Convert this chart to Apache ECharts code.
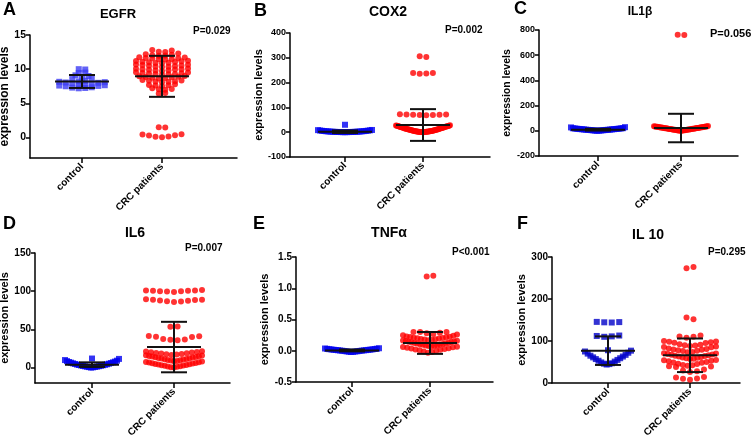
<!DOCTYPE html>
<html><head><meta charset="utf-8">
<script src="https://cdn.jsdelivr.net/npm/echarts@6/dist/echarts.min.js"></script>
<style>html,body{margin:0;padding:0;background:#fff}#c{width:753px;height:438px}</style>
</head><body><div id="c"></div>
<script>
// ---------------- DATA ----------------
const groups = ['control', 'CRC patients'];
const panelLetters = ['A', 'B', 'C', 'D', 'E', 'F'];
const panelTitles = ['EGFR', 'COX2', 'IL1\u03b2', 'IL6', 'TNF\u03b1', 'IL 10'];
const pValues = ['P=0.029', 'P=0.002', 'P=0.056', 'P=0.007', 'P<0.001', 'P=0.295'];
const yAxisName = 'expression levels';

// y tick labels per panel
const egfrTicks = [0, 5, 10, 15];
const cox2Ticks = [-100, 0, 100, 200, 300, 400];
const il1bTicks = [-200, 0, 200, 400, 600, 800];
const il6Ticks = [0, 50, 100, 150];
const tnfTicks = [-0.5, 0, 0.5, 1.0, 1.5];
const il10Ticks = [0, 100, 200, 300];

// y ranges
const egfrRange = [-3, 15];
const cox2Range = [-100, 400];
const il1bRange = [-200, 800];
const il6Range = [-20, 150];
const tnfRange = [-0.5, 1.5];
const il10Range = [0, 300];

// EGFR
const egfrControl = [7.2, 7.25, 7.3, 7.35, 7.5, 7.55, 7.6, 7.65, 7.7, 7.75, 7.8, 7.95, 8.0, 8.05, 8.1, 8.15, 8.2, 8.3, 8.55, 8.6, 8.7, 9.0, 9.1, 9.45, 9.5, 9.95, 10.0];
const egfrCRC = [0.05, 0.1, 0.15, 0.3, 0.32, 0.45, 0.48, 1.45, 1.5,
  6.45, 6.5,
  7.0, 7.05, 7.1, 7.2,
  7.55, 7.6, 7.65, 7.7, 7.8,
  8.1, 8.15, 8.2, 8.25, 8.3, 8.35, 8.4,
  8.65, 8.7, 8.75, 8.8, 8.85, 8.9, 8.95, 9.0,
  9.2, 9.25, 9.3, 9.3, 9.35, 9.4, 9.45, 9.5, 9.55,
  9.75, 9.8, 9.85, 9.9, 9.95, 10.0, 10.0, 10.05, 10.1,
  10.3, 10.35, 10.4, 10.45, 10.5, 10.55, 10.6, 10.65, 10.7,
  10.85, 10.9, 10.95, 11.0, 11.05, 11.1, 11.15, 11.2, 11.25,
  11.4, 11.45, 11.5, 11.55, 11.6, 11.65, 11.7, 11.75,
  11.95, 12.0, 12.05, 12.1, 12.2, 12.3,
  12.5, 12.55, 12.75, 12.8];
const egfrMean = [8.2, 8.95];
const egfrSD = [0.95, 3.0];

// COX2
const cox2Control = [0.1, 0.2, 0.3, 0.5, 0.6, 0.8, 0.9, 1.1, 1.3, 1.4, 1.6, 1.9, 2.1, 2.4, 2.7, 3.1, 3.4, 3.8, 4.2, 4.7, 5.1, 5.6, 6.2, 6.8, 7.5, 8.3, 9.0, 30];
const cox2CRC = [0.1, 0.3, 0.4, 0.6, 0.9, 1.0, 1.2, 1.5, 1.7, 2.0, 2.2, 2.5, 2.9, 3.1, 3.4, 3.8, 4.1, 4.5, 4.8, 5.2, 5.7, 6.1, 6.6, 7.0, 7.4, 7.9, 8.5, 8.9, 9.4, 10.0,
  10.6, 11.1, 11.7, 12.2, 12.8, 13.3, 13.9, 14.6, 15.2, 15.7, 16.3, 16.9, 17.5, 18.2, 18.8, 19.3, 19.9, 20.5, 21.2, 21.8, 22.3, 22.9, 23.6, 24.2, 24.8, 25.3, 25.9, 26.4, 27.0, 27.6,
  68, 69, 69.5, 70, 70.5, 71, 71.5, 72,
  236, 237, 238.5, 239,
  303, 306];
const cox2Mean = [2, 29];
const cox2SD = [5, 64];

// IL1beta
const il1bControl = [0.5, 1.2, 2.0, 2.6, 3.3, 4.1, 4.8, 5.5, 6.3, 7.0, 7.6, 8.4, 9.1, 9.8, 10.5, 11.2, 12.0, 12.7, 13.5, 14.2, 15.0, 15.8, 16.7, 17.5, 18.4, 19.3, 20.2, 21.0, 27, 29];
const il1bCRC = [0.3, 1.0, 1.8, 2.5, 3.1, 3.9, 4.6, 5.2, 6.0, 6.7, 7.5, 8.2, 9.0, 9.6, 10.4, 11.1, 11.9, 12.6, 13.3, 14.1, 14.8, 15.6, 16.3, 17.1, 17.8,
  18.6, 19.3, 20.1, 20.8, 21.6, 22.3, 23.1, 23.8, 24.6, 25.3, 26.1, 26.8, 27.6, 28.3, 29.1, 29.8, 30.6, 31.3, 32.1, 32.8, 33.6, 34.3, 35.1, 36, 38,
  760, 762];
const il1bMean = [9, 22];
const il1bSD = [7, 113];

// IL6
const il6Control = [0.2, 0.5, 0.8, 1.0, 1.3, 1.5, 1.8, 2.0, 2.3, 2.6, 2.9, 3.2, 3.5, 3.8, 4.1, 4.5, 4.9, 5.3, 5.7, 6.1, 6.6, 7.0, 7.5, 8.0, 8.6, 9.2, 10.0, 11.5, 12.0];
const il6CRC = [0.3, 0.7, 1.1, 1.6, 2.0, 2.4, 2.9, 3.3, 3.7, 4.2, 4.6, 5.0, 5.5, 5.9, 6.3, 6.8, 7.2, 7.6, 8.1, 8.5, 8.9, 9.4, 9.8, 10.2, 10.7,
  11.1, 11.5, 12.0, 12.4, 12.8, 13.3, 13.7, 14.1, 14.6, 15.0, 15.4, 15.9, 16.3, 16.7, 17.2, 17.6, 18.0, 18.5, 18.9, 19.3, 19.8, 20.2, 20.6, 21.1, 21.5,
  36, 36.5, 37, 37.5, 40, 40.5, 41, 41.5,
  53.5, 54,
  86, 86.5, 87, 87.5, 88, 88.5, 89, 89, 89.5,
  99, 99.5, 100, 100, 100.5, 100.5, 101, 101, 101.5];
const il6Mean = [4, 27];
const il6SD = [3, 33];

// TNFalpha
const tnfControl = [-0.02, -0.018, -0.015, -0.012, -0.01, -0.008, -0.005, -0.003, 0, 0.002, 0.004, 0.006, 0.008, 0.01, 0.012, 0.014, 0.016, 0.018, 0.02, 0.022, 0.025, 0.028, 0.03, 0.033, 0.036, 0.04];
const tnfCRC = [-0.03, -0.02, -0.01, 0.0, 0.01, 0.015, 0.02, 0.03, 0.035, 0.04, 0.05, 0.055, 0.06, 0.065, 0.07, 0.075, 0.08, 0.085, 0.09, 0.095,
  0.1, 0.105, 0.11, 0.115, 0.12, 0.125, 0.13, 0.135, 0.14, 0.145, 0.15, 0.155, 0.16, 0.165, 0.17, 0.175, 0.18, 0.185, 0.19, 0.195,
  0.2, 0.205, 0.21, 0.215, 0.22, 0.225, 0.23, 0.24, 0.25, 0.26, 0.27, 0.28, 0.29, 0.3, 0.3, 0.3,
  1.19, 1.2];
const tnfMean = [0.005, 0.125];
const tnfSD = [0.015, 0.175];

// IL10
const il10Control = [44, 45, 46, 47, 49, 51, 53, 55, 57, 59, 61, 63, 65, 67, 70, 72, 75, 77, 78, 110, 111, 112, 113, 144, 144.5, 145, 145.5];
const il10CRC = [8, 10, 11, 13, 14, 26, 28, 30, 32, 38, 39, 40, 41, 42, 43,
  45, 46, 48, 49, 50, 52, 53, 54, 55, 57, 58, 59, 60, 61, 62, 63, 64, 65, 66, 67, 68, 69, 70, 71, 73, 74,
  76, 77, 78, 79, 80, 81, 82, 85, 86, 87, 88, 89, 90, 91, 92, 95, 96, 97, 98, 99, 100,
  108, 110, 111, 113, 152, 156, 273, 276];
const il10Mean = [77, 66];
const il10SD = [34, 40];

// ---------------- LAYOUT (pixels) ----------------
// [axisLeft, axisRight, controlX, crcX, axisTop, axisBottom]
const boxes = [
  [30, 237, 82, 162, 35, 158],
  [290, 490, 345, 423, 33, 157],
  [539, 738, 598, 681, 30, 156],
  [35, 230, 92, 174, 253, 383],
  [296, 493, 352, 430, 257, 382],
  [552, 740, 608, 690, 257, 383]
];
const letterPos = [[3, 10], [254, 11], [514, 9], [3, 224], [253, 224], [517, 224]];
const titlePos = [[118, 14], [388, 12], [640, 12], [135, 233], [389, 233], [648, 235]];
const titleSize = [13, 14, 12, 14, 14, 14];
const pPos = [[193, 31], [445, 30], [710, 34], [185, 248], [452, 252], [708, 252]];
const pSize = [10, 10, 11, 10, 10, 10];
const nameGaps = [18, 24, 20, 22, 25, 23];
const nameSize = [12, 11, 10.5, 11, 11, 11];
const tickSize = [10.5, 9, 9, 10, 10, 10];
// swarm: row height (px) per group, dot spacing (px), max row width (px)
const binPx = [[3.3, 3.3], [7.5, 7.5], [6, 6], [9, 6], [6, 6], [14, 6]];
const spacingPx = [[6.5, 6.5], [6.6, 6.6], [6.6, 6.6], [7.2, 7.2], [6.6, 6.6], [7.5, 7.0]];
const rowWidthPx = [[48, 52], [54, 54], [54, 54], [54, 56], [54, 54], [46, 52]];
const ctrlColors = ['#3c3cf4', '#0000f5', '#0000f0', '#0000f0', '#0000f0', '#0000c8'];
const crcColor = '#ff0000';
const FONT = '"Liberation Sans", Arial, Helvetica, sans-serif';

const panelData = [
  [egfrControl, egfrCRC, egfrMean, egfrSD, egfrTicks, egfrRange],
  [cox2Control, cox2CRC, cox2Mean, cox2SD, cox2Ticks, cox2Range],
  [il1bControl, il1bCRC, il1bMean, il1bSD, il1bTicks, il1bRange],
  [il6Control, il6CRC, il6Mean, il6SD, il6Ticks, il6Range],
  [tnfControl, tnfCRC, tnfMean, tnfSD, tnfTicks, tnfRange],
  [il10Control, il10CRC, il10Mean, il10SD, il10Ticks, il10Range]
];

// Beeswarm placement: values within one row height share a row, spread sideways,
// lowest in the centre; crowded rows are squeezed to the column width.
function swarm(values, center, pxY, pxX, bin, spacing, width) {
  const v = values.slice().sort((a, b) => a - b);
  const rows = []; let cur = [];
  v.forEach(val => {
    if (cur.length && ((val - cur[cur.length - 1]) * pxY > 4 || (val - cur[0]) * pxY > bin)) { rows.push(cur); cur = []; }
    cur.push(val);
  });
  if (cur.length) rows.push(cur);
  const pts = [];
  rows.forEach((row, r) => {
    const n = row.length;
    const sp = n > 1 ? Math.min(spacing, width / (n - 1)) : 0;
    const slots = [];
    for (let i = 0; i < n; i++) slots.push(i - (n - 1) / 2);
    const sgn = r % 2 ? -1 : 1;
    slots.sort((a, b) => Math.abs(a) - Math.abs(b) || sgn * (a - b));
    row.forEach((val, i) => pts.push([center + slots[i] * sp / pxX, val]));
  });
  return pts;
}

const grids = [], xAxes = [], yAxes = [], series = [], graphics = [];
const axisLineStyle = { color: '#000', width: 1.5 };

panelData.forEach((pd, i) => {
  const [ctrl, crc, mean, sd, ticks, range] = pd;
  const [aL, aR, cX, rX, aT, aB] = boxes[i];
  const unit = rX - cX;
  const xMin = 1 - (cX - aL) / unit;
  const xMax = 2 + (aR - rX) / unit;
  const pxY = (aB - aT) / (range[1] - range[0]);
  grids.push({ left: aL, top: aT, width: aR - aL, height: aB - aT, containLabel: false, outerBoundsMode: 'none' });
  xAxes.push({
    type: 'value', gridIndex: i, min: xMin, max: xMax,
    axisLine: { show: true, onZero: false, lineStyle: axisLineStyle },
    axisTick: { show: true, customValues: [1, 2], length: 5, lineStyle: axisLineStyle },
    axisLabel: { show: true, customValues: [1, 2], rotate: 45, margin: 7, formatter: v => groups[Math.round(v) - 1] || '',
      fontFamily: FONT, fontWeight: 'bold', fontSize: 10, color: '#000' },
    splitLine: { show: false }
  });
  const dec = i === 4 ? 1 : 0;
  yAxes.push({
    type: 'value', gridIndex: i, min: range[0], max: range[1],
    name: yAxisName, nameLocation: 'middle', nameGap: nameGaps[i],
    nameTextStyle: { fontFamily: FONT, fontWeight: 'bold', fontSize: nameSize[i], color: '#000' },
    axisLine: { show: true, onZero: false, lineStyle: axisLineStyle },
    axisTick: { show: true, customValues: ticks, length: 4, lineStyle: axisLineStyle },
    axisLabel: { show: true, customValues: ticks, margin: 4, formatter: v => Number(v).toFixed(dec),
      fontFamily: FONT, fontWeight: 'bold', fontSize: tickSize[i], color: '#000' },
    splitLine: { show: false }
  });
  series.push({
    type: 'scatter', xAxisIndex: i, yAxisIndex: i, symbol: 'rect', symbolSize: 6, silent: true, z: 2,
    itemStyle: { color: ctrlColors[i] },
    data: swarm(ctrl, 1, pxY, unit, binPx[i][0], spacingPx[i][0], rowWidthPx[i][0])
  });
  series.push({
    type: 'scatter', xAxisIndex: i, yAxisIndex: i, symbol: 'circle', symbolSize: 6, silent: true, z: 2,
    itemStyle: { color: crcColor },
    data: swarm(crc, 2, pxY, unit, binPx[i][1], spacingPx[i][1], rowWidthPx[i][1])
  });
  series.push({
    type: 'custom', xAxisIndex: i, yAxisIndex: i, z: 5, silent: true,
    data: [[1, mean[0], sd[0]], [2, mean[1], sd[1]]],
    renderItem: (params, api) => {
      const x = api.value(0), m = api.value(1), s = api.value(2);
      const c = api.coord([x, m]), t = api.coord([x, m + s]), b = api.coord([x, m - s]);
      const st = { stroke: '#111', lineWidth: 2 };
      return { type: 'group', children: [
        { type: 'line', shape: { x1: c[0] - 27, y1: c[1], x2: c[0] + 27, y2: c[1] }, style: st },
        { type: 'line', shape: { x1: t[0], y1: t[1], x2: b[0], y2: b[1] }, style: st },
        { type: 'line', shape: { x1: t[0] - 13, y1: t[1], x2: t[0] + 13, y2: t[1] }, style: st },
        { type: 'line', shape: { x1: b[0] - 13, y1: b[1], x2: b[0] + 13, y2: b[1] }, style: st }
      ] };
    }
  });
  graphics.push({ type: 'text', x: letterPos[i][0], y: letterPos[i][1], silent: true,
    style: { text: panelLetters[i], fill: '#000', font: 'bold 18px ' + FONT, align: 'left', verticalAlign: 'middle' } });
  graphics.push({ type: 'text', x: titlePos[i][0], y: titlePos[i][1], silent: true,
    style: { text: panelTitles[i], fill: '#000', font: 'bold ' + titleSize[i] + 'px ' + FONT, align: 'center', verticalAlign: 'middle' } });
  graphics.push({ type: 'text', x: pPos[i][0], y: pPos[i][1], silent: true,
    style: { text: pValues[i], fill: '#000', font: 'bold ' + pSize[i] + 'px ' + FONT, align: 'left', verticalAlign: 'middle' } });
});

const chart = echarts.init(document.getElementById('c'), null, { renderer: 'canvas' });
chart.setOption({
  backgroundColor: '#fff',
  animation: false,
  grid: grids, xAxis: xAxes, yAxis: yAxes, series: series, graphic: graphics
});
</script></body></html>
